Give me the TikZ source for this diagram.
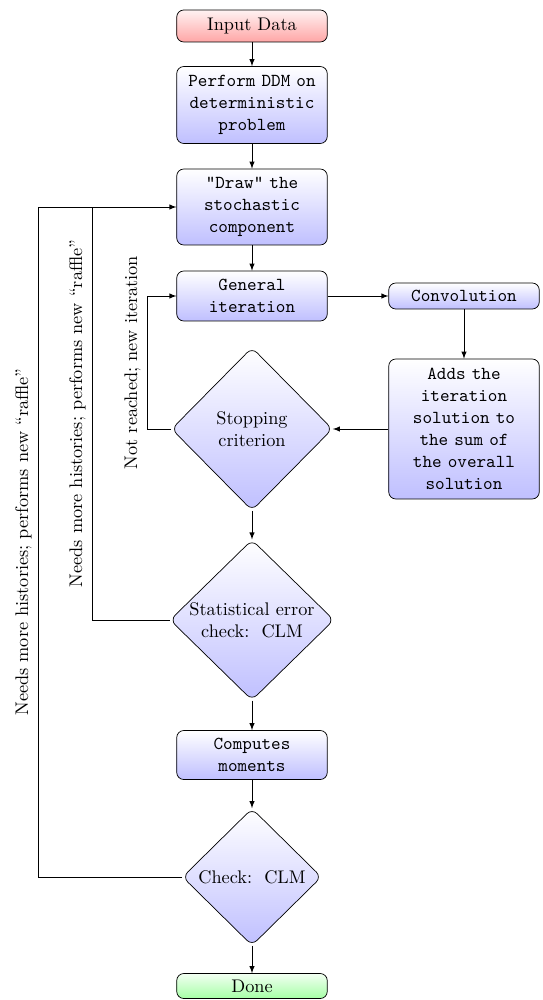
\documentclass[tikz,border=0pt]{standalone}
\usepackage{xcolor}
\usepackage{tikz}
\usetikzlibrary{positioning,shapes,arrows,calc}

\tikzset{
    block/.style={draw, rounded corners, top color=white, bottom color=blue!25,
        text width=2.8cm, align=center, font=\ttfamily, inner sep=3pt},
    startblock/.style={block, top color=red!5, bottom color=red!35, font=\rmfamily},
    endblock/.style={block, top color=green!5, bottom color=green!35, font=\rmfamily},
    decision/.style={diamond, draw, rounded corners, aspect=1, top color=white,
        bottom color=blue!25, align=center, inner sep=0pt},
    line/.style={draw, -latex},
}

\begin{document}
\fontsize{10.4}{12.5}\selectfont
\begin{tikzpicture}[x=0.02cm, y=-0.02cm]
    \useasboundingbox (0,0) rectangle (542,1000);

    % main column
    \node[startblock, minimum height=0.64cm] (input) at (252,26) {Input Data};
    \node[block, minimum height=1.54cm] (ddm) at (252,105) {Perform DDM on\\deterministic\\problem};
    \node[block, minimum height=1.52cm] (draw) at (252,207) {"Draw" the\\stochastic\\component};
    \node[block, minimum height=1.0cm] (gen) at (252,296) {General\\iteration};
    \node[decision, minimum width=3.22cm, minimum height=3.26cm] (stop) at (252,429) {Stopping\\criterion};
    \node[decision, minimum width=3.28cm, minimum height=3.2cm] (stat) at (252,620) {Statistical error\\check:\ \ CLM};
    \node[block, minimum height=0.98cm] (comp) at (252,755) {Computes\\moments};
    \node[decision, minimum width=2.78cm, minimum height=2.74cm] (check) at (252,877) {Check:\ \ CLM};
    \node[endblock, minimum height=0.5cm] (done) at (252,986) {Done};

    % right column
    \node[block, minimum height=0.52cm] (conv) at (464,296) {Convolution};
    \node[block, minimum height=2.8cm] (adds) at (464,429) {Adds the\\iteration\\solution to\\the sum of\\the overall\\solution};

    \path[line] (input) -- (ddm);
    \path[line] (ddm) -- (draw);
    \path[line] (draw) -- (gen);
    \path[line] (gen) -- (conv);
    \path[line] (conv) -- (adds);
    \path[line] (adds) -- (stop);
    \path[line] (stop) -- (stat);
    \path[line] (stat) -- (comp);
    \path[line] (comp) -- (check);
    \path[line] (check) -- (done);

    % loops back
    \coordinate (nr1) at (147,429);
    \coordinate (nr2) at (147,296);
    \coordinate (nm1) at (92,620);
    \coordinate (nm2) at (92,207);
    \coordinate (om1) at (38,877);
    \coordinate (om2) at (38,207);

    \path[line] (stop.west) -- (nr1) -- node[midway, sloped, above] (nrtext) {Not reached; new iteration} (nr2) -- (gen.west);
    \path[line] (stat.west) -- (nm1) -- node[midway, sloped, above] (nmtext) {Needs more histories; performs new “raffle”} (nm2) -- (draw.west);
    \draw (check.west) -- (om1) -- node[midway, sloped, above] (omtext) {Needs more histories; performs new “raffle”} (om2) -- (nm2);
\end{tikzpicture}
\end{document}
